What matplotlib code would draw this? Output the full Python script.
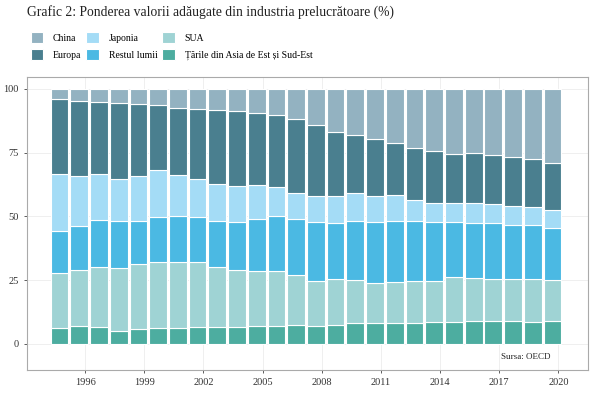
import numpy as np
import matplotlib.pyplot as plt

plt.rcParams['font.family'] = ['Liberation Serif', 'DejaVu Serif']

# ani 1995 - 2020
years = np.arange(1995, 2021)

# ponderi (%) pe regiuni
asia = [6.4, 6.9, 6.7, 5.0, 5.9, 6.3, 6.1, 6.5, 6.5, 6.7, 6.9, 7.2, 7.5,
        7.1, 7.5, 8.1, 8.1, 8.4, 8.4, 8.5, 8.6, 8.9, 9.2, 9.0, 8.8, 8.9]
sua = [21.6, 22.1, 23.4, 24.8, 25.6, 25.9, 25.9, 25.7, 23.6, 22.3, 21.9, 21.4, 19.4,
       17.7, 17.9, 16.9, 16.0, 16.0, 16.3, 16.2, 17.5, 17.0, 16.4, 16.6, 16.7, 16.3]
restul = [16.3, 17.4, 18.5, 18.3, 16.9, 17.6, 18.2, 17.7, 18.1, 18.8, 20.4, 21.6, 22.3,
          22.9, 22.2, 23.4, 23.7, 23.7, 23.7, 23.0, 21.9, 21.4, 21.9, 21.1, 21.0, 20.4]
japonia = [22.2, 19.5, 17.9, 16.6, 17.5, 18.4, 16.1, 14.8, 14.5, 14.2, 13.0, 11.4, 10.1,
           10.5, 10.6, 10.9, 10.4, 10.2, 8.1, 7.6, 7.3, 8.1, 7.5, 7.3, 7.2, 6.9]
europa = [29.6, 29.5, 28.4, 29.7, 28.2, 25.4, 26.4, 27.5, 29.2, 29.5, 28.5, 28.1, 28.8,
          27.7, 24.8, 22.8, 22.2, 20.4, 20.5, 20.5, 19.2, 19.6, 19.2, 19.5, 19.0, 18.5]
china = [3.9, 4.6, 5.1, 5.6, 5.9, 6.4, 7.3, 7.8, 8.1, 8.5, 9.3, 10.3, 11.9,
         14.1, 17.0, 17.9, 19.6, 21.3, 23.0, 24.2, 25.5, 25.0, 25.8, 26.5, 27.3, 29.0]

# ordinea de jos in sus
serii = [
    ('Țările din Asia de Est și Sud-Est', asia, '#4dada0'),
    ('SUA', sua, '#9fd3d4'),
    ('Restul lumii', restul, '#4bb9e3'),
    ('Japonia', japonia, '#a4dcf6'),
    ('Europa', europa, '#4a7f8f'),
    ('China', china, '#93b2c1'),
]

fig = plt.figure(figsize=(6, 4), dpi=100)
ax = fig.add_axes([0.045, 0.075, 0.935, 0.7325])

x = years - 0.3
bottom = np.zeros(len(years))
handles = {}
for nume, vals, col in serii:
    b = ax.bar(x, vals, bottom=bottom, width=0.9, color=col,
               edgecolor='white', linewidth=0.8, label=nume)
    handles[nume] = b
    bottom = bottom + np.array(vals)

ax.set_xlim(1993.05, 2021.5)
ax.set_ylim(-10.2, 104.7)
ax.set_yticks([0, 25, 50, 75, 100])
ax.set_xticks(np.arange(1996, 2021, 3))
ax.tick_params(labelsize=7.5, colors='#444444', length=2.5, width=0.6)
for lbl in ax.get_xticklabels() + ax.get_yticklabels():
    lbl.set_color('#333333')
ax.grid(True, color='#ececec', linewidth=0.6)
ax.set_axisbelow(True)
for s in ax.spines.values():
    s.set_color('#aaaaaa')
    s.set_linewidth(0.8)

ax.text(2019.6, -5, 'Sursa: OECD', fontsize=6.5, ha='right', va='center', color='#222222')

fig.text(0.045, 0.97, 'Grafic 2: Ponderea valorii adăugate din industria prelucrătoare (%)',
         fontsize=9.8, ha='left', va='center', color='#222222')

ordine = ['China', 'Europa', 'Japonia', 'Restul lumii', 'SUA',
          'Țările din Asia de Est și Sud-Est']
leg = fig.legend([handles[n] for n in ordine], ordine, ncol=3, loc='upper left',
                 bbox_to_anchor=(0.038, 0.94), frameon=False, fontsize=7,
                 handlelength=1.3, handleheight=1.4, columnspacing=0.5,
                 handletextpad=1.0, labelspacing=0.6, borderpad=0.3)

fig.savefig('out.png', dpi=100)
